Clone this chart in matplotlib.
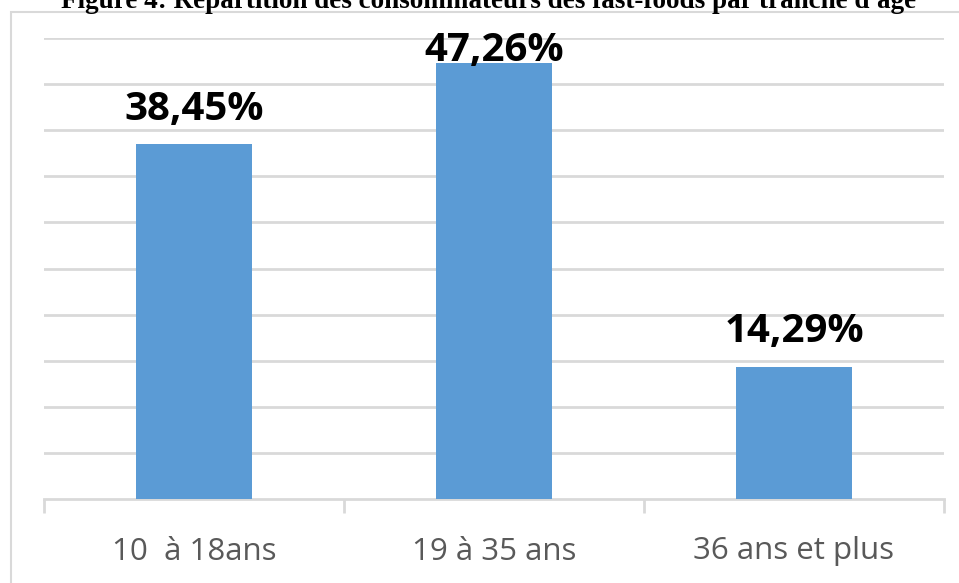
import numpy as np
import matplotlib.pyplot as plt
from matplotlib.patches import Rectangle

# Données
categories = ['10  à 18ans', '19 à 35 ans', '36 ans et plus']
pourcentages = [38.45, 47.26, 14.29]
etiquettes = ['38,45%', '47,26%', '14,29%']
titre = "Figure 4: Répartition des consommateurs des fast-foods par tranche d'âge"

W, H = 959, 583
fig = plt.figure(figsize=(W / 100, H / 100), dpi=100)

# cadre du graphique (bordure grise)
fig.patches.append(Rectangle((11 / W, -0.1), 1.2, (H - 12) / H + 0.1,
                             transform=fig.transFigure, fill=False,
                             edgecolor='#d9d9d9', linewidth=1.5, zorder=0))

# titre (coupé en haut comme dans l'original)
fig.text(489 / W, 1 - 8.5 / H, titre, ha='center', va='baseline',
         fontsize=19.5, fontweight='bold', family='Liberation Serif')

ax = fig.add_axes([44 / W, 84 / H, 900 / W, 461 / H])
x = np.arange(len(categories))
ax.bar(x, pourcentages, width=0.387, color='#5b9bd5', zorder=3)

ax.set_xlim(-0.5, len(categories) - 0.5)
ax.set_ylim(0, 50)
ax.set_yticks(np.arange(5, 51, 5))
ax.yaxis.grid(True, color='#d9d9d9', linewidth=2)
ax.tick_params(axis='y', left=False, labelleft=False)

for s in ['top', 'right', 'left']:
    ax.spines[s].set_visible(False)
ax.spines['bottom'].set_color('#d9d9d9')
ax.spines['bottom'].set_linewidth(2)

ax.set_xticks(x)
ax.set_xticklabels(categories, fontsize=22.5, color='#595959', family='Open Sans')
ax.tick_params(axis='x', length=0, pad=27)
ax.set_xticks(np.arange(-0.5, len(categories)), minor=True)
ax.tick_params(axis='x', which='minor', length=10, width=2, color='#d9d9d9')

# étiquettes de valeurs
for xi, v, lab in zip(x, pourcentages, etiquettes):
    yt = min(v + 2.7, 47.5)
    ax.text(xi, yt, lab, ha='center', va='baseline', fontsize=29,
            fontweight='bold', family='Open Sans', color='black', zorder=4)

fig.savefig('out.png', dpi=100)
